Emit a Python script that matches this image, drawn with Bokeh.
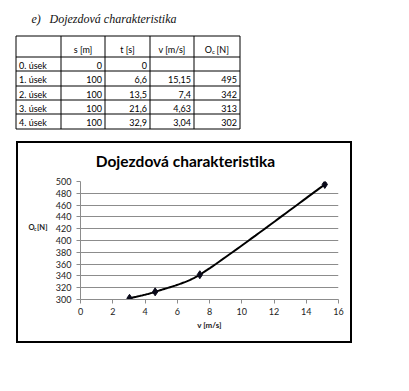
import numpy as np
from bokeh.plotting import figure
from bokeh.models import Range1d, FixedTicker, Spacer
from bokeh.layouts import column, row
from bokeh.embed import file_html
from bokeh.resources import INLINE
from bokeh.core.properties import value

# ---------------- data ----------------
heading_prefix = "e)"
heading_text = "Dojezdová charakteristika"
row_labels = ["0. úsek", "1. úsek", "2. úsek", "3. úsek", "4. úsek"]
col_headers = ["s [m]", "t [s]", "v [m/s]"]
s_m = [0, 100, 100, 100, 100]
t_s = [0, 6.6, 13.5, 21.6, 32.9]
v_ms = [None, 15.15, 7.4, 4.63, 3.04]
oc_n = [None, 495, 342, 313, 302]
chart_title = "Dojezdová charakteristika"
x_label = "v [m/s]"
y_label_main, y_label_sub, y_label_unit = "O", "c", "[N]"
x_ticks = [0, 2, 4, 6, 8, 10, 12, 14, 16]
y_ticks = [300, 320, 340, 360, 380, 400, 420, 440, 460, 480, 500]

FONT = "Lato"


def fmt(v):
    if v is None:
        return ""
    if float(v).is_integer():
        return str(int(v))
    return f"{v:g}".replace(".", ",")


def pixel_fig(w, h):
    f = figure(width=w, height=h, x_range=Range1d(0, w), y_range=Range1d(h, 0),
               output_backend="svg", toolbar_location=None, min_border=0,
               x_axis_location=None, y_axis_location=None)
    f.grid.visible = False
    f.outline_line_color = None
    return f


# ---------------- top: heading + table (pixel coordinates) ----------------
top = pixel_fig(400, 141)

top.text(x=[31], y=[18], text=[heading_prefix], text_font=value("Liberation Serif"),
         text_font_style="italic", text_font_size="12px", text_baseline="middle", text_color="#111111")
top.text(x=[49], y=[18], text=[heading_text], text_font=value("Liberation Serif"),
         text_font_style="italic", text_font_size="12px", text_baseline="middle", text_color="#111111")

col_x = [15.5, 60.5, 104.5, 149.5, 193.5, 239.5]
row_y = [35.5, 56.5, 70.5, 85.5, 99.5, 113.5, 128.5]
top.segment(x0=col_x, y0=[row_y[0]] * len(col_x), x1=col_x, y1=[row_y[-1]] * len(col_x),
            line_color="black", line_width=1)
top.segment(x0=[col_x[0]] * len(row_y), y0=row_y, x1=[col_x[-1]] * len(row_y), y1=row_y,
            line_color="black", line_width=1)

tstyle = dict(text_font=value(FONT), text_font_size="9px", text_color="black", text_baseline="middle")
hy = 49
hx = [(col_x[i + 1] + col_x[i + 2]) / 2 for i in range(3)]
top.text(x=hx, y=[hy] * 3, text=col_headers, text_align="center", **tstyle)
ocx = (col_x[4] + col_x[5]) / 2
top.text(x=[ocx - 5], y=[hy], text=[y_label_main], text_align="right", **tstyle)
top.text(x=[ocx - 5], y=[hy + 2], text=[y_label_sub], text_align="left", text_font=value(FONT),
         text_font_size="6px", text_color="black", text_baseline="middle")
top.text(x=[ocx - 0.5], y=[hy], text=[y_label_unit], text_align="left", **tstyle)

ry = [(row_y[i + 1] + row_y[i + 2]) / 2 + 1 for i in range(5)]
top.text(x=[col_x[0] + 3] * 5, y=ry, text=row_labels, text_align="left", **tstyle)
for ci, vals in enumerate([s_m, t_s, v_ms, oc_n]):
    top.text(x=[col_x[ci + 2] - 3] * 5, y=ry, text=[fmt(v) for v in vals], text_align="right", **tstyle)

# ---------------- chart ----------------
BOX_W = 332
TITLE_H = 32
CH = 166
LEFT_W = 32

# chart title strip
tf = pixel_fig(BOX_W, TITLE_H)
tf.text(x=[167], y=[17.5], text=[chart_title], text_font=value(FONT), text_font_style="bold",
        text_font_size="15.5px", text_align="center", text_baseline="middle", text_color="black")

# left strip holding the horizontal y-axis label with subscript
lf = pixel_fig(LEFT_W, CH)
lab = dict(text_font=value(FONT), text_font_style="bold", text_baseline="middle",
           text_color="#222222", text_align="left")
lf.text(x=[10], y=[65], text=[y_label_main], text_font_size="7.5px", **lab)
lf.text(x=[15.5], y=[67.5], text=[y_label_sub], text_font_size="5px", **lab)
lf.text(x=[18.5], y=[65], text=[y_label_unit], text_font_size="7.5px", **lab)

p = figure(width=BOX_W - LEFT_W, height=CH, x_range=Range1d(0, 16), y_range=Range1d(300, 500),
           output_backend="svg", toolbar_location=None,
           min_border_left=30, min_border_right=12, min_border_top=6, min_border_bottom=42)
p.outline_line_color = None
p.xgrid.visible = False
p.ygrid.grid_line_color = "#8c8c8c"
p.ygrid.ticker = FixedTicker(ticks=y_ticks)
p.xaxis.ticker = FixedTicker(ticks=x_ticks)
p.yaxis.ticker = FixedTicker(ticks=y_ticks)
for ax in (p.xaxis[0], p.yaxis[0]):
    ax.axis_line_color = "#8c8c8c"
    ax.major_tick_line_color = "#8c8c8c"
    ax.major_tick_out = 4
    ax.major_tick_in = 0
    ax.minor_tick_line_color = None
    ax.major_label_text_font = FONT
    ax.major_label_text_font_size = "9px"
    ax.major_label_text_color = "#222222"
p.xaxis.major_label_standoff = 4
p.yaxis.major_label_standoff = 5
p.xaxis.axis_label = x_label
p.xaxis.axis_label_text_font = FONT
p.xaxis.axis_label_text_font_size = "8px"
p.xaxis.axis_label_text_font_style = "bold"
p.xaxis.axis_label_text_color = "#222222"
p.xaxis.axis_label_standoff = 2

# smoothed line (Excel-like Bezier through the data points, in screen space)
order = np.argsort([v for v in v_ms if v is not None])
xs = np.array([v for v in v_ms if v is not None])[order]
ys = np.array([o for o in oc_n if o is not None])[order]
SX, SY = 258 / 16, 118 / 200


def clamp(vec, maxlen):
    n = np.hypot(*vec)
    return vec if n <= maxlen or n == 0 else vec * (maxlen / n)


def smooth(xs, ys, n=40):
    P = np.column_stack([xs * SX, ys * SY])
    out = []
    for i in range(len(P) - 1):
        p0 = P[i - 1] if i > 0 else P[i]
        p1, p2 = P[i], P[i + 1]
        p3 = P[i + 2] if i + 2 < len(P) else P[i + 1]
        chord = np.hypot(*(p2 - p1)) / 3
        c1 = p1 + clamp((p2 - p0) / 6, chord)
        c2 = p2 - clamp((p3 - p1) / 6, chord)
        t = np.linspace(0, 1, n)[:, None]
        b = (1 - t) ** 3 * p1 + 3 * (1 - t) ** 2 * t * c1 + 3 * (1 - t) * t ** 2 * c2 + t ** 3 * p2
        out.append(b if i == 0 else b[1:])
    B = np.vstack(out)
    return B[:, 0] / SX, B[:, 1] / SY


cx, cy = smooth(xs, ys)
p.line(cx, cy, line_color="black", line_width=2)
p.scatter(xs, ys, marker="diamond", size=8, color="#0a0a1a")

chart_box = column(tf, row(lf, p), styles={"border": "2px solid black"})
layout = column(top, row(Spacer(width=16), chart_box))
open("out.html", "w").write(file_html(layout, INLINE))
